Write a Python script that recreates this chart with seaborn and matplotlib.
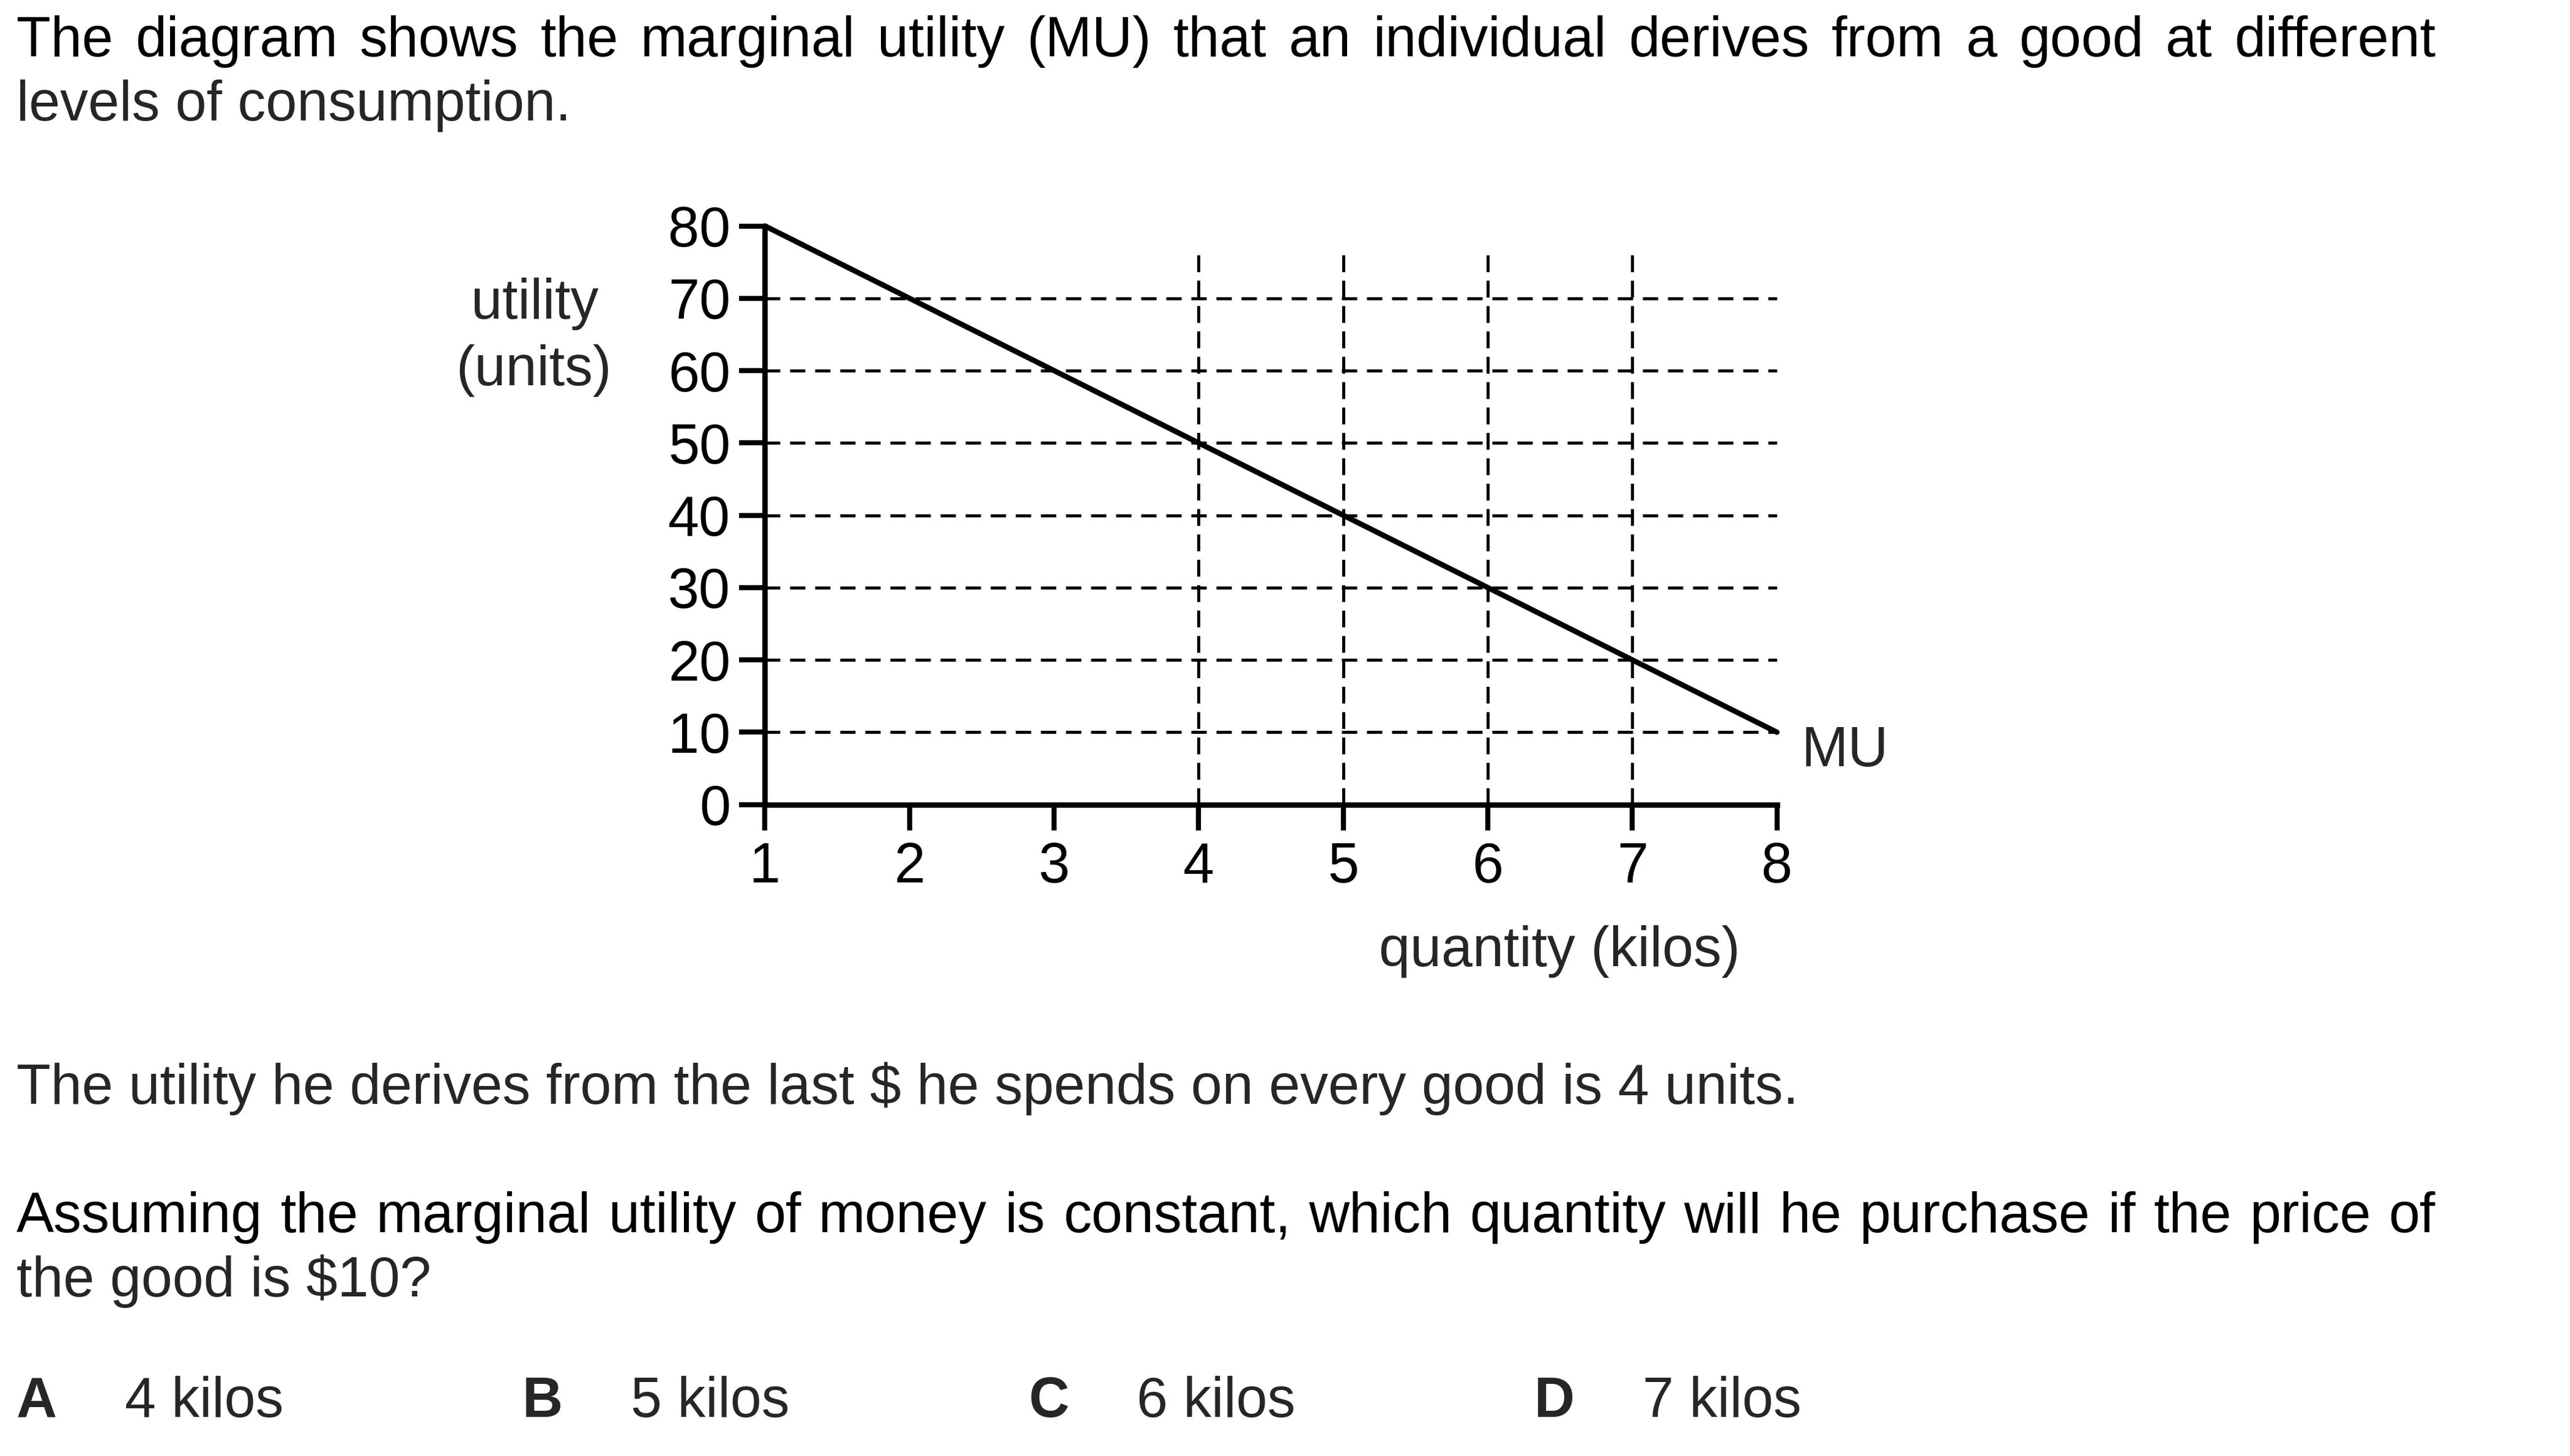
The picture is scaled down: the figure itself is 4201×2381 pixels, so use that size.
import matplotlib
matplotlib.use("Agg")
import matplotlib.pyplot as plt
import pandas as pd
import seaborn as sns

# date pentru grafic
quantity = [1, 2, 3, 4, 5, 6, 7, 8]
mu = [80, 70, 60, 50, 40, 30, 20, 10]
hgrid_levels = [10, 20, 30, 40, 50, 60, 70]
vgrid_qty = [4, 5, 6, 7]
vgrid_top = 77
xticks = [1, 2, 3, 4, 5, 6, 7, 8]
yticks = [0, 10, 20, 30, 40, 50, 60, 70, 80]

# textul intrebarii
intro_lines = ["The diagram shows the marginal utility (MU) that an individual derives from a good at different",
               "levels of consumption."]
stem_line = "The utility he derives from the last $ he spends on every good is 4 units."
question_lines = ["Assuming the marginal utility of money is constant, which quantity will he purchase if the price of",
                  "the good is $10?"]
option_letters = ["A", "B", "C", "D"]
option_texts = ["4 kilos", "5 kilos", "6 kilos", "7 kilos"]

sns.set_style("ticks")
plt.rcParams['font.family'] = ['Liberation Sans', 'DejaVu Sans']

W, H, DPI = 4201, 2381, 300
FS = 22


def fx(px):
    return px / W


def fy(py):
    return 1 - py / H


fig = plt.figure(figsize=(W / DPI, H / DPI), dpi=DPI)
fig.patch.set_facecolor('white')


def justified(line, y, x0=27, x1=3981):
    words = line.split()
    texts = [fig.text(0, fy(y), w, fontsize=FS, va='baseline', color='black') for w in words]
    r = fig.canvas.get_renderer()
    widths = [t.get_window_extent(r).width for t in texts]
    gap = (x1 - x0 - sum(widths)) / (len(words) - 1)
    x = x0
    for t, w in zip(texts, widths):
        t.set_x(fx(x))
        x += w + gap


justified(intro_lines[0], 92)
fig.text(fx(27), fy(197), intro_lines[1], fontsize=FS, va='baseline')
fig.text(fx(27), fy(1805), stem_line, fontsize=FS, va='baseline')
justified(question_lines[0], 2015)
fig.text(fx(27), fy(2120), question_lines[1], fontsize=FS, va='baseline')

for i, (let, txt) in enumerate(zip(option_letters, option_texts)):
    fig.text(fx(27 + i * 827), fy(2317), let, fontsize=FS, va='baseline', fontweight='bold')
    fig.text(fx(204 + i * 827), fy(2317), txt, fontsize=FS, va='baseline')

# graficul
ax = fig.add_axes([fx(1250.3), fy(1315.7), (2904.6 - 1250.3) / W, (1315.7 - 369.5) / H])
df = pd.DataFrame({'quantity': quantity, 'MU': mu})

ax.hlines(hgrid_levels, quantity[0], quantity[-1], colors='black', linewidth=1.2,
          linestyles=[(0, (5, 3.2))], zorder=1)
ax.vlines(vgrid_qty, 0, vgrid_top, colors='black', linewidth=1.2,
          linestyles=[(0, (5.5, 2.8))], zorder=1)
sns.lineplot(data=df, x='quantity', y='MU', ax=ax, color='black', linewidth=2.1,
             clip_on=False, zorder=3)

ax.set_xlim(1, 8)
ax.set_ylim(0, 80)
ax.set_xticks(xticks)
ax.set_yticks(yticks)
ax.set_xlabel('')
ax.set_ylabel('')
sns.despine(ax=ax)
for s in ['left', 'bottom']:
    ax.spines[s].set_linewidth(2.1)
    ax.spines[s].set_color('black')
ax.tick_params(direction='out', length=10, width=2, labelsize=FS, colors='black')
ax.tick_params(axis='x', pad=4.5)
ax.tick_params(axis='y', pad=3.5)

ax.text(8.17, 5.3, "MU", fontsize=FS, va='baseline', ha='left')
fig.text(fx(2549), fy(1580), "quantity (kilos)", fontsize=FS, va='baseline', ha='center')
fig.text(fx(874), fy(521), "utility", fontsize=FS, va='baseline', ha='center')
fig.text(fx(873), fy(630), "(units)", fontsize=FS, va='baseline', ha='center')

fig.savefig('out.png', dpi=DPI)
